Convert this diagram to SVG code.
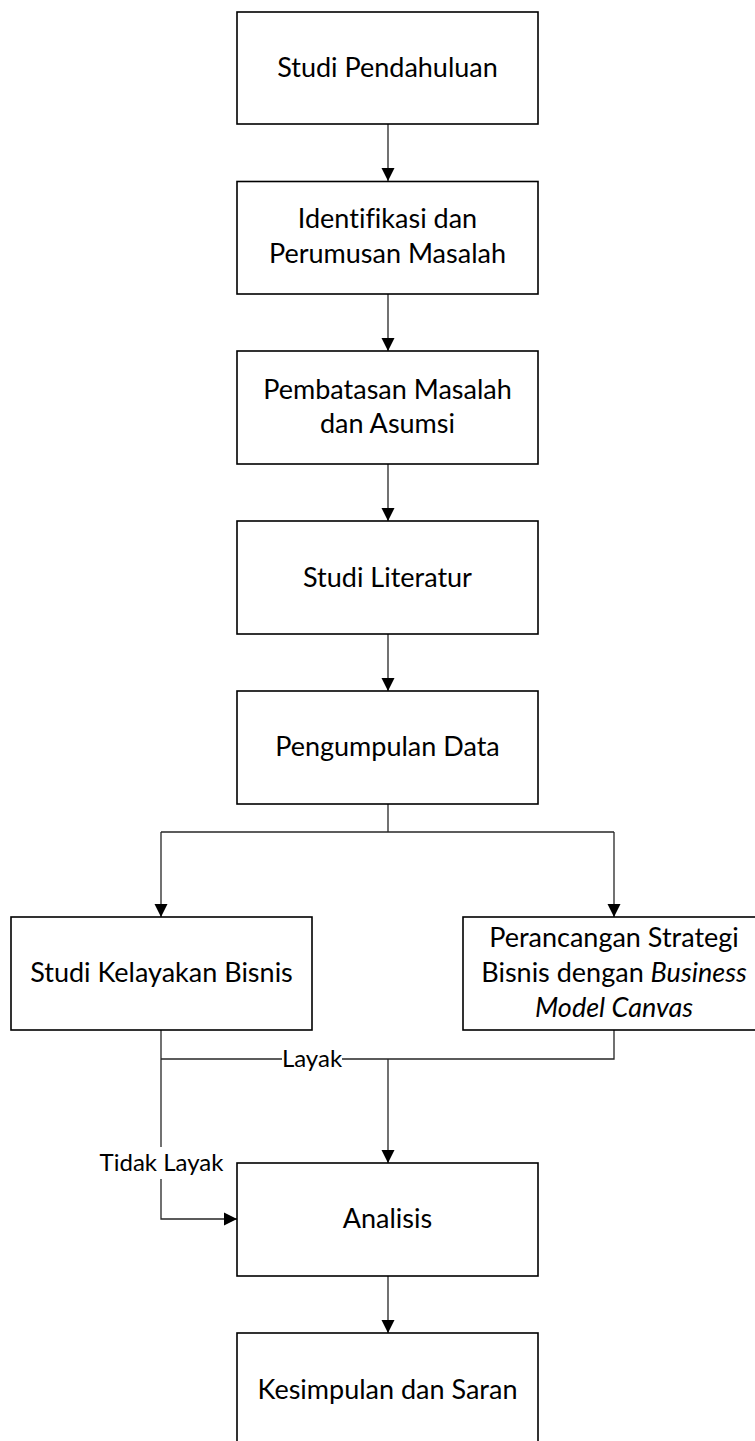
<svg xmlns="http://www.w3.org/2000/svg" width="755" height="1441" viewBox="0 0 755 1441">
<style>
.box{fill:#fff;stroke:#000;stroke-width:1.6}
.t{font-family:Lato,"Liberation Sans",sans-serif;font-size:27px;fill:#000;text-anchor:middle;font-variant-ligatures:none}
.lbl{font-family:Lato,"Liberation Sans",sans-serif;font-size:24px;fill:#000;text-anchor:middle}
.c{fill:none;stroke:#262626;stroke-width:1.3}
.i{font-style:italic}
</style>
<defs>
<marker id="ah" markerUnits="userSpaceOnUse" markerWidth="14" markerHeight="14" refX="13" refY="7" orient="auto">
<path d="M0,0.5 L13,7 L0,13.5 Z" fill="#000"/>
</marker>
</defs>
<rect width="755" height="1441" fill="#fff"/>
<g id="connectors">
<line class="c" x1="388" y1="124" x2="388" y2="181" marker-end="url(#ah)"/>
<line class="c" x1="388" y1="294" x2="388" y2="351" marker-end="url(#ah)"/>
<line class="c" x1="388" y1="464" x2="388" y2="521" marker-end="url(#ah)"/>
<line class="c" x1="388" y1="634" x2="388" y2="691" marker-end="url(#ah)"/>
<polyline class="c" points="388,804 388,832"/>
<polyline class="c" points="161,832 614,832"/>
<line class="c" x1="161" y1="832" x2="161" y2="917" marker-end="url(#ah)"/>
<line class="c" x1="614" y1="832" x2="614" y2="917" marker-end="url(#ah)"/>
<polyline class="c" points="161,1030 161,1147"/>
<polyline class="c" points="161,1179 161,1219 237,1219" marker-end="url(#ah)"/>
<polyline class="c" points="161,1059 282,1059"/>
<polyline class="c" points="342,1059 614,1059 614,1030"/>
<line class="c" x1="388" y1="1059" x2="388" y2="1163" marker-end="url(#ah)"/>
<line class="c" x1="388" y1="1276" x2="388" y2="1333" marker-end="url(#ah)"/>
<text class="lbl" x="312" y="1067">Layak</text>
<text class="lbl" x="161.5" y="1171">Tidak Layak</text>
</g>
<g id="n1"><rect class="box" x="237" y="12" width="301" height="112"/><text class="t" x="387.5" y="77">Studi Pendahuluan</text></g>
<g id="n2"><rect class="box" x="237" y="181.5" width="301" height="112.5"/><text class="t" x="387.5" y="228">Identifikasi dan</text><text class="t" x="387.5" y="263">Perumusan Masalah</text></g>
<g id="n3"><rect class="box" x="237" y="351" width="301" height="113"/><text class="t" x="387.5" y="399">Pembatasan Masalah</text><text class="t" x="387.5" y="433">dan Asumsi</text></g>
<g id="n4"><rect class="box" x="237" y="521" width="301" height="113"/><text class="t" x="387.5" y="587">Studi Literatur</text></g>
<g id="n5"><rect class="box" x="237" y="691" width="301" height="113"/><text class="t" x="387.5" y="756">Pengumpulan Data</text></g>
<g id="n6"><rect class="box" x="11" y="917" width="301" height="113"/><text class="t" x="161.5" y="982">Studi Kelayakan Bisnis</text></g>
<g id="n7"><rect class="box" x="463" y="917" width="302" height="113"/><text class="t" x="614" y="947">Perancangan Strategi</text><text class="t" x="614" y="982">Bisnis dengan <tspan class="i">Business</tspan></text><text class="t i" x="614" y="1017">Model Canvas</text></g>
<g id="n8"><rect class="box" x="237" y="1163" width="301" height="113"/><text class="t" x="387.5" y="1228">Analisis</text></g>
<g id="n9"><rect class="box" x="237" y="1333" width="301" height="113"/><text class="t" x="387.5" y="1399">Kesimpulan dan Saran</text></g>
</svg>
